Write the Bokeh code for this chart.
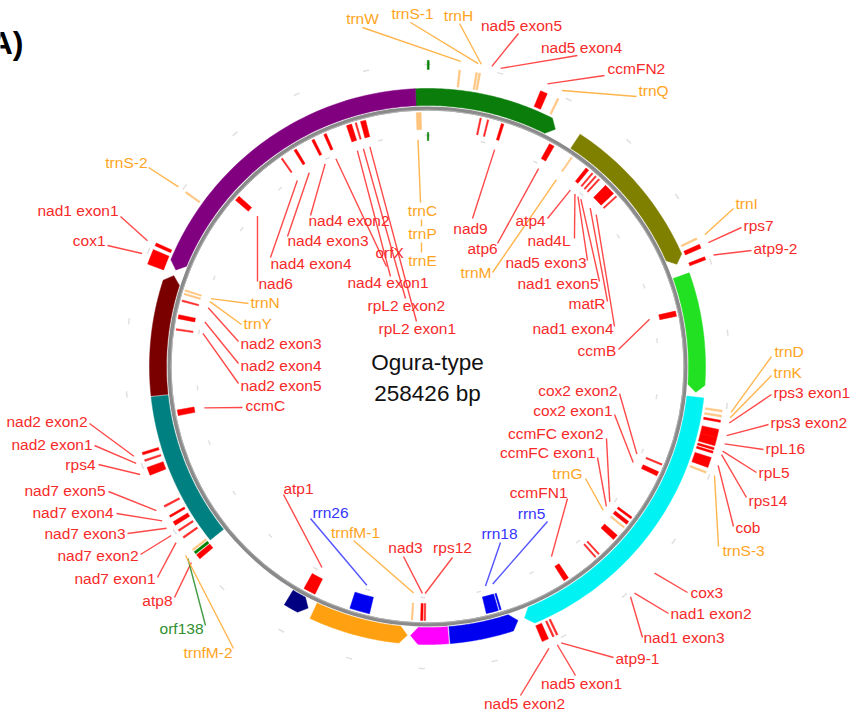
import math
import numpy as np
from bokeh.plotting import figure
from bokeh.models import Range1d, ColumnDataSource
from bokeh.core.properties import value
from bokeh.embed import file_html
from bokeh.resources import INLINE

# ---------------- data ----------------
GENOME_LENGTH = 258426
TITLE = "Ogura-type"
SUBTITLE = "258426 bp"
PANEL = "A)"
TICK_STEP = 10000

# large coloured blocks outside the ring (bp)
band_start = [256630, 23905, 50465, 69272, 115143, 126054, 132300, 148090, 166109, 189441, 208894]
band_end = [20315, 48598, 68555, 114066, 125839, 131797, 147159, 151466, 189297, 207962, 256630]
band_color = ["#0b7d0b", "#808000", "#22e022", "#00f2f2", "#0000f0", "#ff00ff",
              "#ffa010", "#000080", "#008080", "#7a0000", "#800080"]
band_dir = ["cw", "cw", "cw", "cw", "ccw", "cw", "ccw", "ccw", "none", "cw", "ccw"]

# genes: name, centre (bp), length (bp), track (+1 outer, -1 inner, +-2 far), kind
gene_name = ["trnW", "trnS-1", "trnH", "ccmFN2", "trnQ", "trnI", "rps7", "atp9-2",
             "trnD", "trnK", "rps3 exon1", "rps3 exon2", "rpL16", "rpL5", "rps14", "cob", "trnS-3",
             "atp9-1", "nad5 exon1", "nad5 exon2", "atp8", "orf138", "trnfM-2",
             "nad7 exon1", "nad7 exon2", "nad7 exon3", "nad7 exon4", "nad7 exon5",
             "rps4", "nad2 exon1", "nad2 exon2", "cox1", "nad1 exon1", "trnS-2", "",
             "trnC", "trnP", "trnE", "nad5 exon5", "nad5 exon4", "nad9", "atp6", "trnM",
             "atp4", "nad4L", "nad5 exon3", "nad1 exon5", "matR", "nad1 exon4", "ccmB",
             "cox2 exon2", "cox2 exon1", "ccmFC exon2", "ccmFC exon1", "trnG", "cox3",
             "nad1 exon2", "nad1 exon3", "ccmFN1", "rrn5", "rrn18", "rps12", "nad3",
             "trnfM-1", "rrn26", "atp1", "ccmC", "nad2 exon5", "nad2 exon4", "nad2 exon3",
             "trnY", "trnN", "nad6", "nad4 exon4", "nad4 exon3", "nad4 exon2", "orfX",
             "nad4 exon1", "rpL2 exon2", "rpL2 exon1", ""]
gene_pos = [4451, 6820, 7250, 16511, 18664, 46373, 47522, 49316,
            70780, 71498, 72216, 73940, 75087, 76092, 76595, 78102, 79538,
            110693, 111267, 112487, 165321, 166039, 166541,
            168695, 169843, 170992, 172140, 173720,
            179032, 180611, 181616, 209325, 211191, 219518, 100,
            256707, 256994, 257281, 8686, 9906, 12347, 21033, 24838,
            27996, 29073, 29791, 30509, 32878, 34457, 55992,
            80902, 82553, 90880, 91885, 92819, 94972,
            98776, 99494, 105452, 117225, 118589, 129643, 130146,
            131725, 140340, 149097, 186282, 199849, 201931, 204587,
            205736, 206310, 223610, 233301, 235886, 239188, 241341,
            245505, 246653, 247874, 100]
gene_len = [215, 215, 215, 1005, 215, 215, 574, 431,
            215, 215, 287, 1149, 1149, 287, 287, 1436, 215,
            215, 215, 933, 718, 359, 215,
            215, 215, 574, 287, 215,
            1149, 215, 359, 2154, 431, 215, 215,
            215, 215, 215, 215, 215, 431, 861, 215,
            574, 215, 215, 215, 1866, 215, 861,
            215, 718, 359, 574, 215, 933,
            215, 215, 861, 215, 2010, 215, 359,
            215, 3302, 2010, 933, 215, 646, 215,
            215, 215, 861, 215, 431, 431, 431,
            861, 215, 861, 215]
gene_track = [1] * 34 + [2] + [-1] * 45 + [-2]
gene_kind = ["trna", "trna", "trna", "cds", "trna", "trna", "cds", "cds",
             "trna", "trna", "cds", "cds", "cds", "cds", "cds", "cds", "trna",
             "cds", "cds", "cds", "cds", "orf", "trna",
             "cds", "cds", "cds", "cds", "cds",
             "cds", "cds", "cds", "cds", "cds", "trna", "orf",
             "trna", "trna", "trna", "cds", "cds", "cds", "cds", "trna",
             "cds", "cds", "cds", "cds", "cds", "cds", "cds",
             "cds", "cds", "cds", "cds", "trna", "cds",
             "cds", "cds", "cds", "rrna", "rrna", "cds", "cds",
             "trna", "rrna", "cds", "cds", "cds", "cds", "cds",
             "trna", "trna", "cds", "cds", "cds", "cds", "cds",
             "cds", "cds", "cds", "orf"]

# ---------------- layout (image pixel coordinates) ----------------
CX, CY = 427, 366          # centre of the map in the picture
W, H = 853, 714
R_RING = 258
BAND_R = (261, 278)
TRACK_R = {1: (281, 298), -1: (237, 254), 2: (297, 306), -2: (226, 234)}
LEADER_R_OUT, LEADER_R_IN = 307, 227

# label: (text x, text y, align, leader start x, leader start y)
LABELS = {
    "trnW": (362, 18, "center", 362, 27), "trnS-1": (412, 13, "center", 410, 22),
    "trnH": (458, 15, "center", 459, 23), "nad5 exon5": (521, 25, "center", 518, 33),
    "nad5 exon4": (581, 47, "center", 577, 55), "ccmFN2": (607, 68, "left", 604, 75),
    "trnQ": (638, 90, "left", 636, 96), "trnI": (735, 203, "left", 733, 208),
    "rps7": (743, 225, "left", 741, 227), "atp9-2": (753, 248, "left", 751, 250),
    "trnD": (774, 351, "left", 771, 356), "trnK": (773, 372, "left", 771, 375),
    "rps3 exon1": (773, 392, "left", 771, 394), "rps3 exon2": (770, 422, "left", 768, 424),
    "rpL16": (765, 448, "left", 763, 449), "rpL5": (758, 472, "left", 756, 472),
    "rps14": (748, 500, "left", 746, 497), "cob": (735, 527, "left", 733, 526),
    "trnS-3": (722, 550, "left", 718, 546), "atp9-1": (615, 658, "left", 613, 657),
    "nad5 exon1": (581, 683, "center", 575, 675), "nad5 exon2": (524, 703, "center", 520, 695),
    "atp8": (172, 600, "right", 174, 597), "orf138": (203, 628, "right", 205, 625),
    "trnfM-2": (232, 652, "right", 233, 648), "nad7 exon1": (155, 578, "right", 157, 577),
    "nad7 exon2": (138, 555, "right", 140, 554), "nad7 exon3": (125, 533, "right", 127, 533),
    "nad7 exon4": (113, 512, "right", 116, 513), "nad7 exon5": (105, 490, "right", 108, 491),
    "rps4": (95, 464, "right", 98, 464), "nad2 exon1": (92, 444, "right", 94, 445),
    "nad2 exon2": (87, 421, "right", 89, 423), "cox1": (105, 240, "right", 107, 245),
    "nad1 exon1": (118, 210, "right", 120, 216), "trnS-2": (147, 162, "right", 148, 167),
    "trnC": (422, 210, "center", 420, 202), "trnP": (422, 233, "center", 421, 226),
    "trnE": (422, 260, "center", 421, 252), "nad9": (470, 228, "center", 472, 218),
    "atp6": (467, 248, "left", 497, 243), "trnM": (460, 272, "left", 492, 272),
    "atp4": (515, 220, "left", 547, 218), "nad4L": (527, 240, "left", 574, 238),
    "nad5 exon3": (505, 262, "left", 587, 260), "nad1 exon5": (517, 283, "left", 599, 281),
    "matR": (568, 303, "left", 607, 301), "nad1 exon4": (532, 328, "left", 614, 326),
    "ccmB": (577, 350, "left", 618, 349), "cox2 exon2": (617, 390, "right", 619, 393),
    "cox2 exon1": (612, 410, "right", 614, 414), "ccmFC exon2": (603, 433, "right", 606, 438),
    "ccmFC exon1": (595, 452, "right", 597, 457), "trnG": (582, 473, "right", 585, 478),
    "ccmFN1": (567, 492, "right", 567, 498), "cox3": (690, 592, "left", 687, 592),
    "nad1 exon2": (670, 613, "left", 668, 613), "nad1 exon3": (643, 637, "left", 642, 637),
    "rrn5": (531, 513, "center", 547, 521), "rrn18": (499, 533, "center", 500, 542),
    "rps12": (452, 547, "center", 452, 557), "nad3": (405, 547, "center", 403, 556),
    "trnfM-1": (355, 532, "center", 353, 540), "rrn26": (330, 512, "center", 310, 518),
    "atp1": (298, 488, "center", 283, 494), "ccmC": (245, 405, "left", 242, 407),
    "nad2 exon5": (240, 385, "left", 238, 383), "nad2 exon4": (240, 365, "left", 238, 363),
    "nad2 exon3": (240, 343, "left", 238, 341), "trnY": (243, 323, "left", 241, 324),
    "trnN": (250, 302, "left", 248, 303), "nad6": (258, 283, "left", 257, 281),
    "nad4 exon4": (270, 263, "left", 270, 257), "nad4 exon3": (287, 240, "left", 287, 236),
    "nad4 exon2": (308, 220, "left", 310, 215), "orfX": (375, 252, "left", 386, 266),
    "nad4 exon1": (347, 282, "left", 390, 276), "rpL2 exon2": (367, 305, "left", 405, 298),
    "rpL2 exon1": (378, 328, "left", 416, 321),
}
LEADER_END = {"trnP": (421, 219), "trnE": (421, 242)}

TEXT_COLOR = {"cds": "#f72a2a", "trna": "#ffa422", "rrna": "#3535ff", "orf": "#2f8f2f"}
LINE_COLOR = {"cds": "#ff3535", "trna": "#ffad3a", "rrna": "#4040ff", "orf": "#2f8f2f"}
FEAT_COLOR = {"cds": "#ff0000", "trna": "#ffa030", "rrna": "#0000f0", "orf": "#008000"}
FONT = "Liberation Sans"


def img(px, py):
    return px - CX, CY - py


def deg(bp):
    return bp / GENOME_LENGTH * 360.0


def pol(theta, r):
    t = np.radians(theta)
    return r * np.sin(t), r * np.cos(t)


p = figure(width=W, height=H, x_range=Range1d(-CX, W - CX),
           y_range=Range1d(CY - H, CY), x_axis_type=None, y_axis_type=None,
           output_backend="svg", toolbar_location=None, min_border=0)
p.grid.visible = False
p.outline_line_color = None
p.background_fill_color = "white"

# ---- faint scale ticks every 10 kb ----
tx, ty = [], []
for k in range(0, GENOME_LENGTH, TICK_STEP):
    th = deg(k)
    for r in (302, 231):
        a = np.linspace(th - 0.6, th + 0.6, 4)
        x, y = pol(a, r)
        tx.append(list(x)); ty.append(list(y))
p.multi_line(tx, ty, line_color="#e0e0e0", line_width=1.5)

# ---- bands ----
ARROW = 1.6
bx, by = [], []
r0, r1 = BAND_R
rm = (r0 + r1) / 2
for s, e, d in zip(band_start, band_end, band_dir):
    if e < s:
        e += GENOME_LENGTH
    t0, t1 = deg(s), deg(e)
    if d == "cw":
        a = np.linspace(t0, t1 - ARROW, 60)
        ox, oy = pol(a, r1)
        ix, iy = pol(a[::-1], r0)
        tx_, ty_ = pol(np.array([t1]), rm)
        xs = list(ox) + list(tx_) + list(ix)
        ys = list(oy) + list(ty_) + list(iy)
    elif d == "ccw":
        a = np.linspace(t0 + ARROW, t1, 60)
        ox, oy = pol(a, r1)
        ix, iy = pol(a[::-1], r0)
        tx_, ty_ = pol(np.array([t0]), rm)
        xs = list(tx_) + list(ox) + list(ix)
        ys = list(ty_) + list(oy) + list(iy)
    else:
        a = np.linspace(t0, t1, 60)
        ox, oy = pol(a, r1)
        ix, iy = pol(a[::-1], r0)
        xs = list(ox) + list(ix)
        ys = list(oy) + list(iy)
    bx.append(xs); by.append(ys)
p.patches(bx, by, fill_color=band_color, line_color=band_color, line_width=0.5)

# ---- grey ring ----
p.circle(x=0, y=0, radius=R_RING, fill_color=None, line_color="#8a8a8a", line_width=4)
p.circle(x=0, y=0, radius=R_RING - 1.5, fill_color=None, line_color="#b5b5b5", line_width=1)

# ---- gene features ----
fs = {"inner": [], "outer": [], "start": [], "end": [], "color": [], "alpha": []}
for name, pos, ln, tr, kind in zip(gene_name, gene_pos, gene_len, gene_track, gene_kind):
    c = deg(pos)
    w = max(deg(ln), 0.35)
    ri, ro = TRACK_R[tr]
    fs["inner"].append(ri); fs["outer"].append(ro)
    fs["start"].append(math.radians(90 - (c + w / 2)))
    fs["end"].append(math.radians(90 - (c - w / 2)))
    fs["color"].append(FEAT_COLOR[kind])
    if kind == "trna":
        fs["alpha"].append(0.55)
    elif ln <= 215 and kind == "cds":
        fs["alpha"].append(0.8)
    else:
        fs["alpha"].append(1.0)
src = ColumnDataSource(fs)
p.annular_wedge(x=0, y=0, inner_radius="inner", outer_radius="outer",
                start_angle="start", end_angle="end", direction="anticlock",
                fill_color="color", fill_alpha="alpha", line_color="color",
                line_alpha="alpha", line_width=0.5, source=src)

# ---- leader lines and labels ----
lx, ly, lc = [], [], []
groups = {}
for name, pos, kind in zip(gene_name, gene_pos, gene_kind):
    if not name or name not in LABELS:
        continue
    tx0, ty0, al, sx, sy = LABELS[name]
    x0, y0 = img(sx, sy)
    if name in LEADER_END:
        x1, y1 = img(*LEADER_END[name])
    else:
        outside = math.hypot(*img(tx0, ty0)) > R_RING
        x1, y1 = pol(deg(pos), LEADER_R_OUT if outside else LEADER_R_IN)
    lx.append([x0, float(x1)]); ly.append([y0, float(y1)]); lc.append(LINE_COLOR[kind])
    gx, gy = img(tx0, ty0)
    key = (al, TEXT_COLOR[kind])
    groups.setdefault(key, {"x": [], "y": [], "t": []})
    groups[key]["x"].append(gx); groups[key]["y"].append(gy); groups[key]["t"].append(name)

p.multi_line(lx, ly, line_color=lc, line_width=1.4, line_alpha=0.9)

for (al, col), d in groups.items():
    p.text(x=d["x"], y=d["y"], text=d["t"], text_align=al, text_baseline="middle",
           text_color=col, text_font=value(FONT), text_font_size=value("15.5px"))

# ---- centre texts ----
cx_, cy_ = img(427, 362)
p.text(x=[cx_], y=[cy_], text=[TITLE], text_align="center", text_baseline="middle",
       text_color="#111111", text_font=value(FONT), text_font_size=value("22.5px"))
cx_, cy_ = img(427, 393)
p.text(x=[cx_], y=[cy_], text=[SUBTITLE], text_align="center", text_baseline="middle",
       text_color="#111111", text_font=value(FONT), text_font_size=value("22.5px"))
ax_, ay_ = img(23, 42)
p.text(x=[ax_], y=[ay_], text=[PANEL], text_align="right", text_baseline="middle",
       text_color="#000000", text_font=value(FONT), text_font_size=value("32px"),
       text_font_style="bold")

open("out.html", "w").write(file_html(p, INLINE))
